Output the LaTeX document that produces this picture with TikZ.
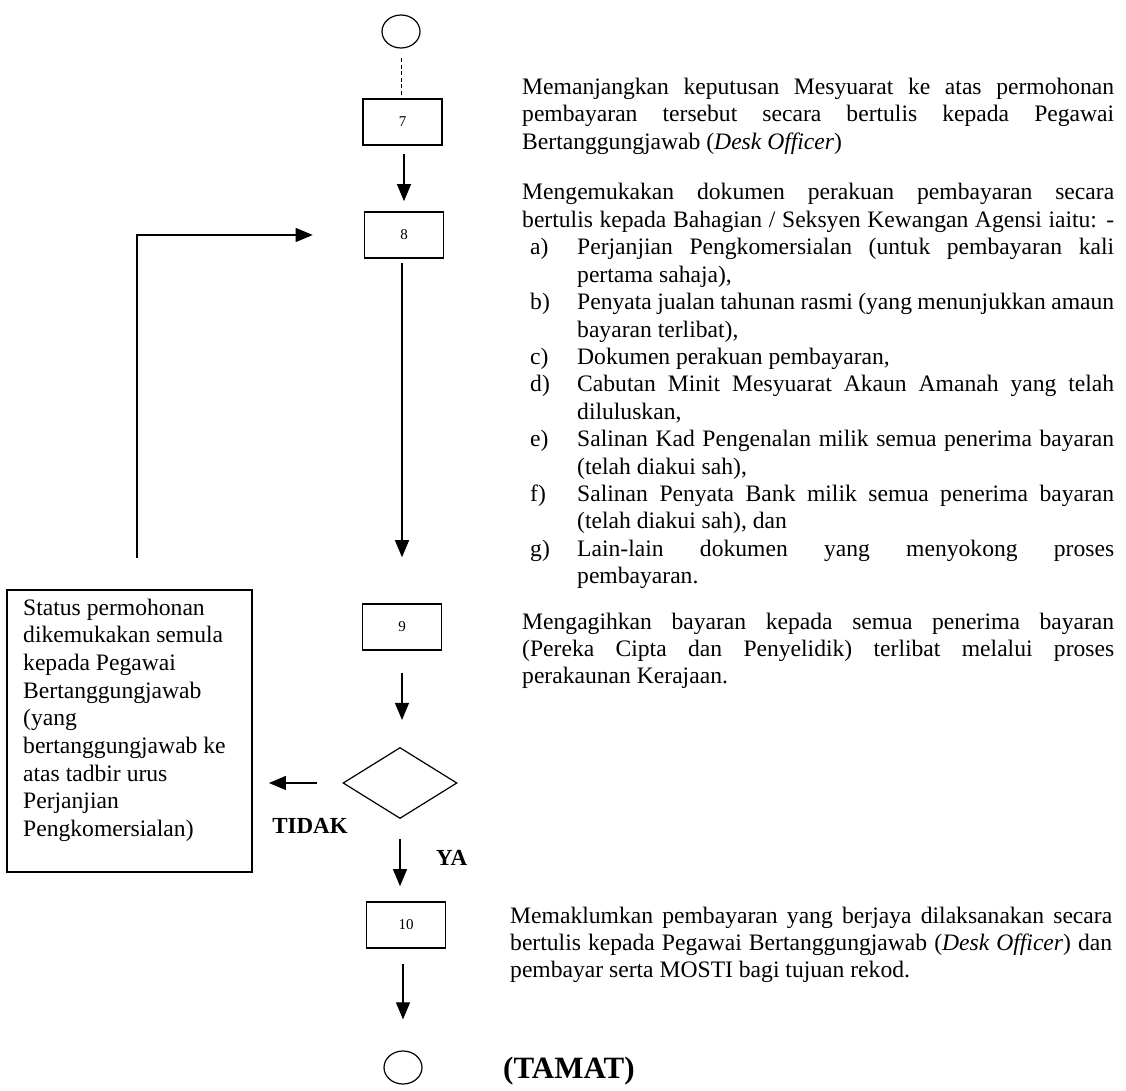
\documentclass[tikz,border=0pt]{standalone}
\usepackage{fontspec}
\setmainfont{Liberation Serif}
\usetikzlibrary{shapes.geometric,arrows.meta}
\tikzset{
  stepbox/.style={draw, line width=1.6pt, minimum width=79pt, minimum height=46pt, inner sep=0pt, font=\fontsize{15}{17}\selectfont},
  arr/.style={line width=1.1pt, -{Triangle[length=17pt,width=14pt]}},
  txt/.style={anchor=base west, inner sep=0pt, font=\fontsize{23.6}{27.4}\selectfont},
  oval/.style={draw, ellipse, line width=1.2pt, minimum width=38pt, minimum height=33pt, inner sep=0pt},
  lbl/.style={inner sep=0pt, font=\fontsize{23}{26}\selectfont\bfseries},
}
\newcommand\jl[5]{\node[txt] (#1) at (#2) {\makebox[#3pt][s]{#4}#5};}
\newcommand\nl[3]{\node[txt] (#1) at (#2) {#3};}
\begin{document}
\begin{tikzpicture}[x=1pt,y=-1pt]
\useasboundingbox[fill=white] (0,0) rectangle (1126,1091);
% flow nodes
\node[oval] (start) at (401,31.5) {};
\node[stepbox] (n7) at (402.5,122) {7};
\node[stepbox] (n8) at (404,235) {8};
\node[stepbox] (n9) at (402,627) {9};
\node[draw, diamond, line width=1.2pt, minimum width=114pt, minimum height=71pt, aspect=1.6, inner sep=0pt] (d) at (400,783) {};
\node[stepbox] (n10) at (406,925) {10};
\node[oval] (stop) at (403,1067.5) {};
\node[draw, line width=1.8pt, minimum width=245pt, minimum height=282pt, inner sep=0pt] (lbox) at (129.5,731) {};
% connectors
\draw[line width=0.9pt, dash pattern=on 4pt off 2.5pt, shorten <=9.5pt, shorten >=2pt] (start.south) -- (start.south |- n7.north);
\draw[arr, shorten <=8pt, shorten >=10pt] ([xshift=1.5pt]n7.south) -- ([xshift=1.5pt]n7.south |- n8.north);
\draw[arr, shorten <=4pt, shorten >=46pt] ([xshift=-2pt]n8.south) -- ([xshift=-2pt]n8.south |- n9.north);
\draw[arr, shorten <=22pt, shorten >=27pt] (n9.south) -- (n9.south |- d.north);
\draw[arr, shorten <=25pt, shorten >=16pt] (d.west) -- (d.west -| lbox.east);
\draw[arr, shorten <=20pt, shorten >=15pt] (d.south) -- (d.south |- n10.north);
\draw[arr, shorten <=15pt, shorten >=31pt] ([xshift=-3pt]n10.south) -- ([xshift=-3pt]n10.south |- stop.north);
\coordinate (loopstart) at (137,558);
\draw[arr, shorten >=51pt] (loopstart) |- (n8.west);
% labels
\node[lbl, anchor=base] (tidak) at (310,833) {TIDAK};
\node[lbl, anchor=base west] (ya) at (436,865) {YA};
\node[inner sep=0pt, anchor=base west, font=\fontsize{31}{34}\selectfont\bfseries] (tamat) at (503,1078) {(TAMAT)};
% left box text
\nl{l1}{23,615}{Status permohonan}
\nl{l2}{23,642.7}{dikemukakan semula}
\nl{l3}{23,670.4}{kepada Pegawai}
\nl{l4}{23,698.1}{Bertanggungjawab}
\nl{l5}{23,725.8}{(yang}
\nl{l6}{23,753.5}{bertanggungjawab ke}
\nl{l7}{23,781.2}{atas tadbir urus}
\nl{l8}{23,808.9}{Perjanjian}
\nl{l9}{23,836.6}{Pengkomersialan)}
% paragraph 1
\jl{p1a}{522,94.5}{592}{Memanjangkan keputusan Mesyuarat ke atas permohonan}{}
\jl{p1b}{522,121.9}{592}{pembayaran tersebut secara bertulis kepada Pegawai}{}
\nl{p1c}{522,149.3}{Bertanggungjawab (\textit{Desk Officer})}
% paragraph 2
\jl{p2a}{522,200}{592}{Mengemukakan dokumen perakuan pembayaran secara}{}
\jl{p2b}{522,227.4}{592}{bertulis kepada Bahagian / Seksyen Kewangan Agensi iaitu: -}{}
\nl{la}{530,254.8}{a)}
\jl{ia1}{577,254.8}{537}{Perjanjian Pengkomersialan (untuk pembayaran kali}{}
\nl{ia2}{577,282.2}{pertama sahaja),}
\nl{lb}{530,309.6}{b)}
\jl{ib1}{577,309.6}{537}{Penyata jualan tahunan rasmi (yang menunjukkan amaun}{}
\nl{ib2}{577,337}{bayaran terlibat),}
\nl{lc}{530,364.4}{c)}
\nl{ic1}{577,364.4}{Dokumen perakuan pembayaran,}
\nl{ld}{530,391.8}{d)}
\jl{id1}{577,391.8}{537}{Cabutan Minit Mesyuarat Akaun Amanah yang telah}{}
\nl{id2}{577,419.2}{diluluskan,}
\nl{le}{530,446.6}{e)}
\jl{ie1}{577,446.6}{537}{Salinan Kad Pengenalan milik semua penerima bayaran}{}
\nl{ie2}{577,474}{(telah diakui sah),}
\nl{lf}{530,501.4}{f)}
\jl{if1}{577,501.4}{537}{Salinan Penyata Bank milik semua penerima bayaran}{}
\nl{if2}{577,528.8}{(telah diakui sah), dan}
\nl{lg}{530,556.2}{g)}
\jl{ig1}{577,556.2}{537}{Lain-lain dokumen yang menyokong proses}{}
\nl{ig2}{577,583.6}{pembayaran.}
% paragraph 3
\jl{p3a}{522,629}{592}{Mengagihkan bayaran kepada semua penerima bayaran}{}
\jl{p3b}{522,656.4}{592}{(Pereka Cipta dan Penyelidik) terlibat melalui proses}{}
\nl{p3c}{522,683.8}{perakaunan Kerajaan.}
% paragraph 4
\jl{p4a}{510,923}{602}{Memaklumkan pembayaran yang berjaya dilaksanakan secara}{}
\jl{p4b}{510,950.4}{602}{bertulis kepada Pegawai Bertanggungjawab (\textit{Desk Officer}) dan}{}
\nl{p4c}{510,977.8}{pembayar serta MOSTI bagi tujuan rekod.}
\end{tikzpicture}
\end{document}
